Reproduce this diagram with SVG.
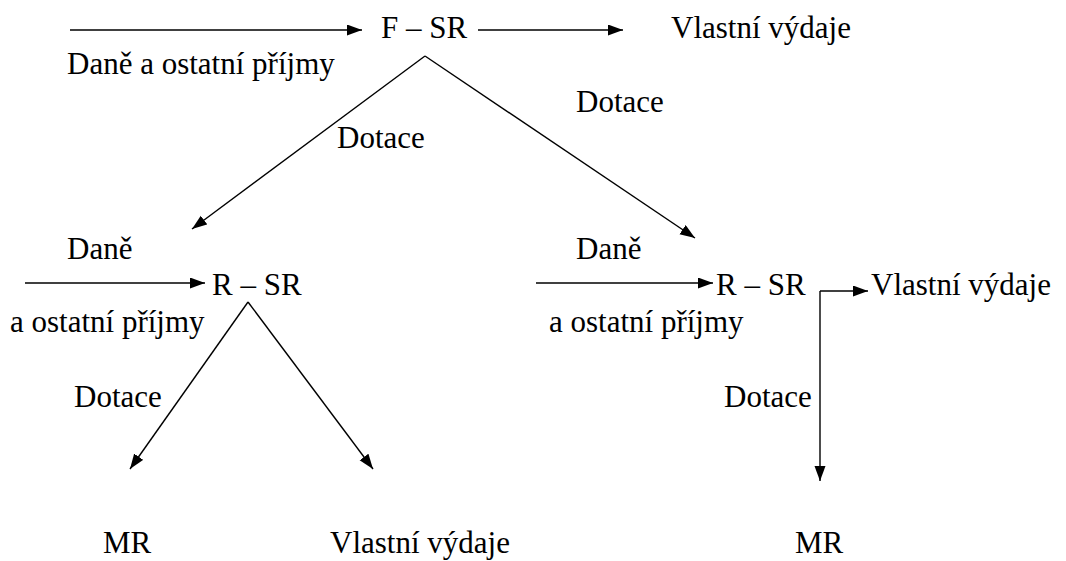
<svg xmlns="http://www.w3.org/2000/svg" width="1066" height="561" viewBox="0 0 1066 561">
<style>
text{font-family:"Liberation Serif","Times New Roman",serif;font-size:31px;fill:#000}
.c line{stroke:#000;stroke-width:1.4;fill:none;marker-end:url(#ah)}
</style>
<defs>
<marker id="ah" markerUnits="userSpaceOnUse" markerWidth="16" markerHeight="12" refX="15" refY="5.5" orient="auto" viewBox="0 0 16 12">
<path d="M0,0 L15,5.5 L0,11 z" fill="#000"/>
</marker>
</defs>
<rect width="1066" height="561" fill="#fff"/>
<g id="connectors" class="c">
<line x1="70" y1="30" x2="362" y2="30"/>
<line x1="478" y1="30" x2="623" y2="30"/>
<line x1="425" y1="56" x2="192" y2="229"/>
<line x1="425" y1="56" x2="695" y2="238"/>
<line x1="25" y1="283" x2="205" y2="283"/>
<line x1="536" y1="283" x2="713" y2="283"/>
<line x1="248" y1="302" x2="130" y2="469"/>
<line x1="248" y1="302" x2="373" y2="469"/>
<line x1="820" y1="291" x2="868" y2="291"/>
<line x1="820" y1="291" x2="820" y2="481"/>
</g>
<g id="fsr"><text x="381" y="38">F – SR</text></g>
<g id="vv1"><text x="671" y="38">Vlastní výdaje</text></g>
<g id="lbl-dane1"><text x="67" y="74">Daně a ostatní příjmy</text></g>
<g id="lbl-dotace1"><text x="337" y="148">Dotace</text></g>
<g id="lbl-dotace2"><text x="576" y="112">Dotace</text></g>
<g id="lbl-dane2"><text x="67" y="259">Daně</text><text x="10" y="332">a ostatní příjmy</text></g>
<g id="rsr1"><text x="212" y="295">R – SR</text></g>
<g id="lbl-dane3"><text x="576" y="259">Daně</text><text x="549" y="332">a ostatní příjmy</text></g>
<g id="rsr2"><text x="716" y="295">R – SR</text></g>
<g id="vv2"><text x="871" y="295">Vlastní výdaje</text></g>
<g id="lbl-dotace3"><text x="74" y="407">Dotace</text></g>
<g id="lbl-dotace4"><text x="724" y="407">Dotace</text></g>
<g id="mr1"><text x="103" y="553">MR</text></g>
<g id="vv3"><text x="330" y="553">Vlastní výdaje</text></g>
<g id="mr2"><text x="795" y="553">MR</text></g>
</svg>
